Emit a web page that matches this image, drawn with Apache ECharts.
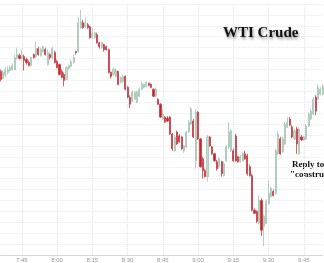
<!DOCTYPE html>
<html><head><meta charset="utf-8">
<script src="https://cdn.jsdelivr.net/npm/echarts@6/dist/echarts.min.js"></script>
<style>html,body{margin:0;padding:0;background:#fff}#c{width:324px;height:263px}</style>
</head><body><div id="c"></div>
<script>
const times = ["7:36","7:37","7:38","7:39","7:40","7:41","7:42","7:43","7:44","7:45","7:46","7:47","7:48","7:49","7:50","7:51","7:52","7:53","7:54","7:55","7:56","7:57","7:58","7:59",
"8:00","8:01","8:02","8:03","8:04","8:05","8:06","8:07","8:08","8:09","8:10","8:11","8:12","8:13","8:14","8:15","8:16","8:17","8:18","8:19","8:20","8:21","8:22","8:23","8:24","8:25","8:26","8:27","8:28","8:29","8:30","8:31","8:32","8:33","8:34","8:35","8:36","8:37","8:38","8:39","8:40","8:41","8:42","8:43","8:44","8:45","8:46","8:47","8:48","8:49","8:50","8:51","8:52","8:53","8:54","8:55","8:56","8:57","8:58","8:59",
"9:00","9:01","9:02","9:03","9:04","9:05","9:06","9:07","9:08","9:09","9:10","9:11","9:12","9:13","9:14","9:15","9:16","9:17","9:18","9:19","9:20","9:21","9:22","9:23","9:24","9:25","9:26","9:27","9:28","9:29","9:30","9:31","9:32","9:33","9:34","9:35","9:36","9:37","9:38","9:39","9:40","9:41","9:42","9:43","9:44","9:45","9:46","9:47","9:48","9:49","9:50","9:51","9:52","9:53"];
const tickLabels = ["7:45","8:00","8:15","8:30","8:45","9:00","9:15","9:30","9:45"];
const opens = [61.91,61.84,61.87,61.90,61.92,61.93,61.93,62.05,62.07,62.04,62.06,62.03,62.00,61.97,62.08,62.06,62.14,62.07,62.11,62.13,61.98,62.08,62.05,62.10,62.01,61.98,61.91,61.88,61.83,61.94,61.96,62.00,62.11,62.11,62.35,62.40,62.36,62.38,62.36,62.25,62.25,62.28,62.20,62.15,62.18,
62.16,62.13,61.90,61.88,61.86,61.91,61.80,61.81,61.86,61.75,61.65,61.61,61.63,61.60,61.66,61.73,61.75,61.76,61.79,61.78,61.73,61.66,61.63,61.58,61.43,61.45,61.44,61.45,61.28,61.11,61.30,61.26,61.25,61.11,61.15,61.30,61.38,61.41,61.01,61.50,61.23,61.03,60.91,60.85,61.25,61.15,61.08,
61.00,60.95,61.00,60.86,61.01,61.15,61.11,61.11,61.26,61.05,61.00,61.01,61.08,61.06,60.95,60.86,60.51,60.50,60.38,60.61,60.35,60.38,60.58,60.65,60.70,60.68,61.08,61.23,61.10,61.18,61.35,61.43,61.35,61.23,61.33,61.08,61.25,61.22,61.23,61.36,61.43,61.48,61.65,61.63,61.68,61.68];
const closes = [61.83,61.90,61.92,61.93,61.95,61.97,62.05,62.08,62.04,62.07,62.02,62.00,61.97,62.05,62.05,62.14,62.08,62.13,62.16,62.08,62.10,62.05,62.14,62.00,61.95,61.88,61.85,61.82,61.95,61.97,62.01,62.05,62.10,62.40,62.41,62.35,62.40,62.35,62.25,62.30,62.30,62.20,62.16,62.20,62.13,
62.13,61.90,61.86,61.93,61.92,61.78,61.85,61.86,61.73,61.65,61.58,61.70,61.70,61.70,61.73,61.78,61.78,61.80,61.77,61.75,61.66,61.73,61.58,61.45,61.48,61.40,61.41,61.28,61.13,61.25,61.18,61.20,61.13,61.16,61.30,61.40,61.53,61.25,61.50,61.23,60.95,60.91,60.85,61.25,61.16,61.08,61.01,
60.93,61.03,60.88,60.98,61.15,61.30,61.31,61.01,61.01,61.00,61.05,61.08,61.03,60.88,60.86,60.51,60.48,60.40,60.61,60.31,60.45,60.60,60.68,60.73,60.66,61.11,61.28,61.08,61.23,61.38,61.40,61.37,61.25,61.31,61.18,61.33,61.22,61.25,61.36,61.48,61.51,61.63,61.51,61.75,61.73,61.76];
const lows = [61.81,61.83,61.85,61.88,61.91,61.92,61.92,62.03,62.03,62.03,61.92,61.98,61.96,61.96,62.04,62.05,62.07,62.06,62.10,62.07,61.97,62.03,62.03,61.99,61.94,61.87,61.84,61.76,61.82,61.93,61.95,61.99,62.08,62.10,62.34,62.34,62.35,62.34,62.24,62.24,62.24,62.19,62.14,62.14,62.11,
62.12,61.89,61.84,61.86,61.85,61.77,61.79,61.80,61.72,61.64,61.54,61.60,61.62,61.59,61.65,61.72,61.74,61.75,61.76,61.74,61.65,61.65,61.57,61.44,61.42,61.39,61.40,61.27,61.11,61.10,61.17,61.19,61.12,61.09,61.14,61.29,61.37,61.24,60.93,61.22,60.94,60.83,60.84,60.80,61.15,61.07,61.00,
60.91,60.93,60.85,60.85,61.00,61.13,61.10,61.00,61.00,60.99,60.99,61.00,61.02,60.86,60.85,60.50,60.47,60.38,60.37,60.25,60.15,60.37,60.57,60.64,60.65,60.67,61.07,61.07,61.09,61.17,61.34,61.36,61.24,61.22,61.08,61.07,61.21,61.21,61.22,61.35,61.42,61.47,61.47,61.62,61.67,61.67];
const highs = [61.93,61.92,61.95,61.96,61.97,61.99,62.08,62.15,62.09,62.13,62.08,62.05,62.02,62.06,62.09,62.21,62.16,62.15,62.17,62.15,62.13,62.09,62.16,62.12,62.03,61.99,61.93,61.90,61.96,61.98,62.03,62.08,62.12,62.46,62.53,62.43,62.45,62.40,62.37,62.35,62.31,62.30,62.21,62.21,62.19,
62.17,62.14,61.91,61.95,61.94,61.92,61.86,61.88,61.87,61.76,61.67,61.72,61.71,61.72,61.75,61.81,61.79,61.81,61.80,61.79,61.74,61.75,61.64,61.59,61.52,61.46,61.46,61.46,61.29,61.27,61.31,61.28,61.26,61.17,61.31,61.42,61.55,61.43,61.53,61.51,61.24,61.05,60.93,61.27,61.26,61.16,61.09,
61.02,61.04,61.01,61.00,61.17,61.40,61.33,61.13,61.28,61.06,61.07,61.09,61.11,61.08,60.97,60.88,60.53,60.51,60.66,60.63,60.47,60.62,60.81,60.75,60.72,61.13,61.30,61.25,61.25,61.40,61.45,61.45,61.37,61.33,61.35,61.35,61.27,61.26,61.38,61.50,61.53,61.65,61.67,61.78,61.75,61.78];

const ohlc = opens.map((o, i) => [o, closes[i], lows[i], highs[i]]);
const showIdx = (i) => tickLabels.indexOf(times[i]) >= 0;

const chart = echarts.init(document.getElementById('c'), null, {renderer: 'canvas'});
chart.setOption({
  animation: false,
  backgroundColor: '#fff',
  grid: {left: 0.7, right: 1.35, top: 4, bottom: 6, containLabel: false},
  title: {
    text: 'WTI Crude', left: 218, top: 21,
    textStyle: {fontFamily: 'Liberation Serif', fontWeight: 'bold', fontSize: 15, color: '#111',
      textShadowColor: 'rgba(0,0,0,0.45)', textShadowBlur: 3, textShadowOffsetX: 1, textShadowOffsetY: 2}
  },
  xAxis: {
    type: 'category', data: times, boundaryGap: false,
    axisLine: {lineStyle: {color: '#d8d8d8'}},
    axisTick: {show: false},
    axisLabel: {interval: (i) => showIdx(i), hideOverlap: false,
      fontSize: 6, color: '#999', margin: 2, fontFamily: 'Liberation Sans'},
    splitLine: {show: true, interval: (i) => showIdx(i), lineStyle: {color: '#e4e4e4', type: 'dotted', width: 1}}
  },
  yAxis: {
    type: 'value', min: 60.06, max: 62.59, interval: 0.11, scale: true,
    axisLine: {show: false}, axisTick: {show: false}, axisLabel: {show: false},
    splitLine: {show: true, lineStyle: {color: '#e8e8e8', type: 'dotted', width: 1}}
  },
  graphic: [
    {type: 'text', left: 292, top: 160, style: {text: 'Reply to', font: 'bold 9px "Liberation Serif"', fill: '#111',
      shadowColor: 'rgba(0,0,0,0.35)', shadowBlur: 2, shadowOffsetX: 1, shadowOffsetY: 1}},
    {type: 'text', left: 290, top: 170, style: {text: '"constructive"', font: 'bold 9px "Liberation Serif"', fill: '#111',
      shadowColor: 'rgba(0,0,0,0.35)', shadowBlur: 2, shadowOffsetX: 1, shadowOffsetY: 1}}
  ],
  series: [{
    type: 'candlestick', data: ohlc, barWidth: 1.6,
    itemStyle: {color: '#c3dbce', color0: '#c4262e', borderColor: '#a5c4b4', borderColor0: '#cc3a42', borderWidth: 0.8}
  }]
});
</script></body></html>
